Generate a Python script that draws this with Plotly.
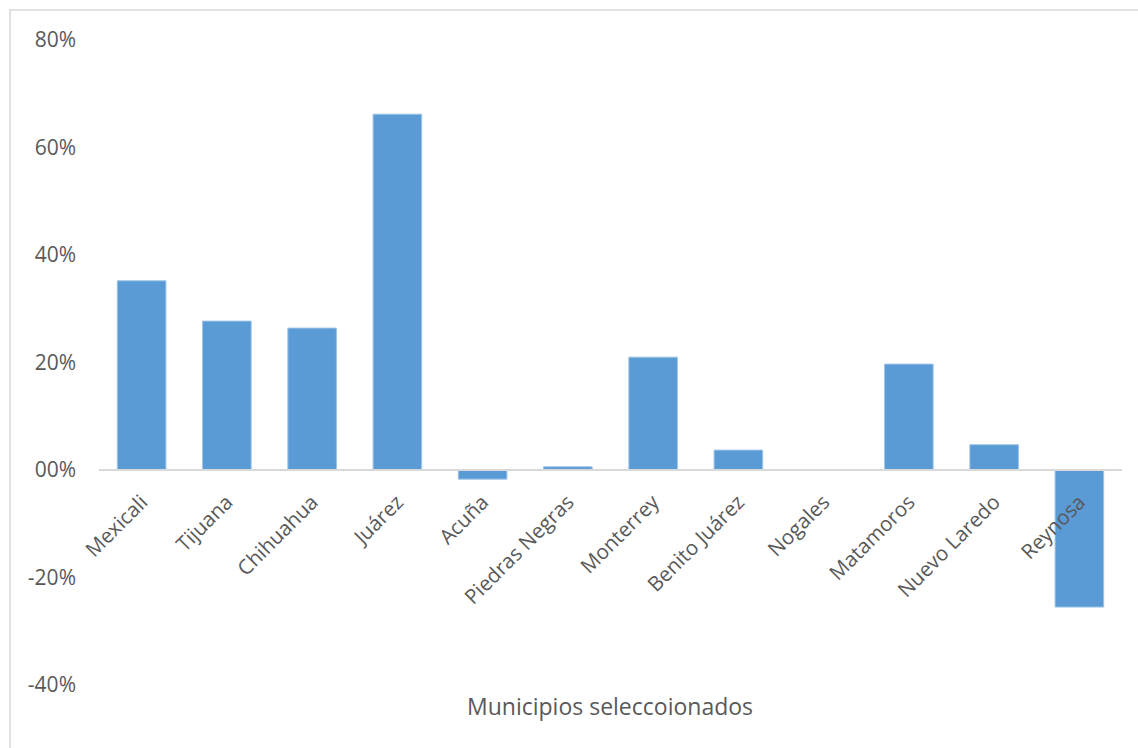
import plotly.graph_objects as go

categories = ["Mexicali", "Tijuana", "Chihuahua", "Juárez", "Acuña", "Piedras Negras",
              "Monterrey", "Benito Juárez", "Nogales", "Matamoros", "Nuevo Laredo", "Reynosa"]
values = [0.352, 0.277, 0.264, 0.662, -0.017, 0.006, 0.210, 0.037, 0.0, 0.197, 0.047, -0.255]
tick_vals = [-0.4, -0.2, 0.0, 0.2, 0.4, 0.6, 0.8]
tick_text = ["-40%", "-20%", "00%", "20%", "40%", "60%", "80%"]
x_title = "Municipios seleccoionados"

FONT = "Open Sans"
GRAY = "#595959"

fig = go.Figure(go.Bar(
    x=categories, y=values,
    marker=dict(color="#5b9bd5", line=dict(color="#9cc3e6", width=1)),
    width=0.57,
))

W, H = 1138, 748
ml, mr, mt, mb = 99, 16, 40, 63
plot_h = H - mt - mb
plot_w = W - ml - mr

fig.update_layout(
    width=W, height=H,
    margin=dict(l=ml, r=mr, t=mt, b=mb),
    plot_bgcolor="white", paper_bgcolor="white",
    showlegend=False,
    font=dict(family=FONT, color=GRAY),
    xaxis=dict(
        anchor="free", position=(0 - (-0.4)) / 1.2,
        showline=True, linecolor="#d9d9d9", linewidth=2,
        showgrid=False, ticks="", tickangle=-45,
        tickfont=dict(family=FONT, size=20.5, color=GRAY),
        ticklabelstandoff=11,
        zeroline=False,
    ),
    yaxis=dict(
        range=[-0.4, 0.8], tickvals=tick_vals, ticktext=tick_text,
        showgrid=False, zeroline=False, showline=False, ticks="",
        tickfont=dict(family=FONT, size=21, color=GRAY),
        ticklabelstandoff=22,
    ),
    annotations=[dict(
        text=x_title, xref="paper", yref="paper",
        x=(610 - ml) / plot_w, y=(H - mb - 706) / plot_h,
        showarrow=False, xanchor="center", yanchor="middle",
        font=dict(family=FONT, size=23, color=GRAY),
    )],
    shapes=[dict(
        type="rect", xref="paper", yref="paper",
        x0=(10 - ml) / plot_w, x1=(1150 - ml) / plot_w,
        y0=(H - mb - 760) / plot_h, y1=(H - mb - 10) / plot_h,
        line=dict(color="#d9d9d9", width=1.5), layer="below",
    )],
)

fig.write_html("out.html")
